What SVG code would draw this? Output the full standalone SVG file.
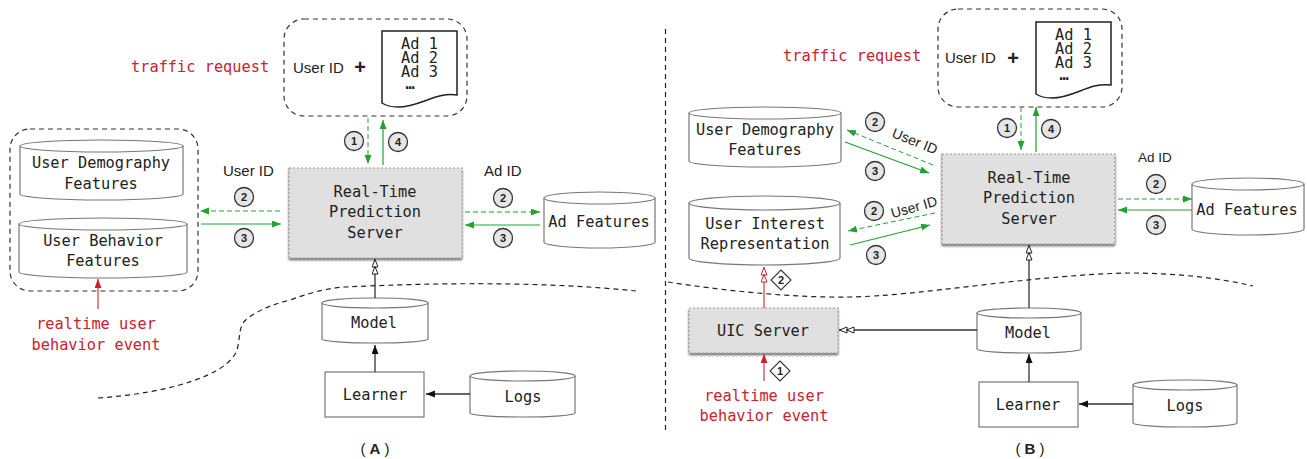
<svg xmlns="http://www.w3.org/2000/svg" width="1307" height="459" viewBox="0 0 1307 459">
<style>
text{font-family:"DejaVu Sans Mono","Liberation Mono",monospace;font-size:15.300px;fill:#222}
.m{text-anchor:middle}
.s{font-family:"Liberation Sans",Arial,sans-serif;font-size:15px}
.red{fill:#c9232f}
.cyl{fill:#fff;stroke:#777;stroke-width:1.2}
.box{fill:#fff;stroke:#777;stroke-width:1.2}
.srv{fill:#e0e0e0;stroke:#999;stroke-width:1.2;stroke-dasharray:2 2;filter:url(#sh)}
.grp{fill:#fff;stroke:#333;stroke-width:1.2;stroke-dasharray:5 4}
.doc{fill:#fff;stroke:#222;stroke-width:1.5}
.cut{fill:none;stroke:#222;stroke-width:1.2;stroke-dasharray:5 4}
.gs{fill:none;stroke:#22a32f;stroke-width:1.2;marker-end:url(#ga)}
.gd{fill:none;stroke:#22a32f;stroke-width:1;stroke-dasharray:5 3;marker-end:url(#ga)}
.bk{fill:none;stroke:#333;stroke-width:1.3;marker-end:url(#ka)}
.bh{fill:none;stroke:#333;stroke-width:1.3;marker-end:url(#kh)}
.rd{fill:none;stroke:#c9232f;stroke-width:1.1;marker-end:url(#ra)}
.rh{fill:none;stroke:#c9232f;stroke-width:1.1;marker-end:url(#rh)}
.bc{fill:#e6e6e6;stroke:#333;stroke-width:1.3}
.bt{font-family:"Liberation Sans",Arial,sans-serif;font-size:11px;font-weight:bold;text-anchor:middle}
.di{fill:#fff;stroke:#333;stroke-width:1.1}
</style>
<defs>
<filter id="sh" x="-5%" y="-5%" width="110%" height="115%"><feDropShadow dx="0" dy="2" stdDeviation="1.2" flood-color="#000" flood-opacity="0.55"/></filter>
<marker id="ga" markerUnits="userSpaceOnUse" markerWidth="10" markerHeight="8" refX="9" refY="3.500" orient="auto"><path d="M0 0L9 3.500L0 7Z" fill="#22a32f"/></marker>
<marker id="ka" markerUnits="userSpaceOnUse" markerWidth="10" markerHeight="8" refX="9" refY="3.500" orient="auto"><path d="M0 0L9 3.500L0 7Z" fill="#111"/></marker>
<marker id="kh" markerUnits="userSpaceOnUse" markerWidth="16" markerHeight="8" refX="15.500" refY="3.500" orient="auto"><path d="M7.500 0.500L15 3.500L7.500 6.500Z M0.500 0.500L8 3.500L0.500 6.500Z" fill="#fff" stroke="#222" stroke-width="1"/></marker>
<marker id="ra" markerUnits="userSpaceOnUse" markerWidth="10" markerHeight="8" refX="9" refY="3.500" orient="auto"><path d="M0 0L9 3.500L0 7Z" fill="#c9232f"/></marker>
<marker id="rh" markerUnits="userSpaceOnUse" markerWidth="16" markerHeight="8" refX="15.500" refY="3.500" orient="auto"><path d="M7.500 0.500L15 3.500L7.500 6.500Z M0.500 0.500L8 3.500L0.500 6.500Z" fill="#fff" stroke="#c9232f" stroke-width="1"/></marker>
</defs>

<path class="cut" id="divider" d="M665.500 29V433"/>
<path class="cut" id="boundary-a" d="M98 398C170 393 228 375 237 350C241 335 238 325 248 318C262 308 275 304 290 300C315 291 330 288 345 287C430 283 540 281 636 291"/>
<path class="cut" id="boundary-b" d="M668 282C720 290 790 298 850 297C920 296 1030 275 1129 273C1170 273 1215 277 1253 286"/>

<g id="a-feature-group"><rect class="grp" x="10" y="129" width="188" height="162" rx="20"/></g>
<g id="a-demography"><path class="cyl" d="M20 146A81.500 6 0 0 1 183 146V194A81.500 6 0 0 1 20 194Z"/><path class="cyl" d="M20 146A81.500 6 0 0 0 183 146"/><text class="m" x="101" y="168">User Demography</text><text class="m" x="101" y="189">Features</text></g>
<g id="a-behavior"><path class="cyl" d="M19 224A84 6 0 0 1 187 224V272A84 6 0 0 1 19 272Z"/><path class="cyl" d="M19 224A84 6 0 0 0 187 224"/><text class="m" x="103" y="246">User Behavior</text><text class="m" x="103" y="266">Features</text></g>
<g id="a-request"><rect class="grp" x="284" y="19" width="183" height="97" rx="20"/><text class="s" x="293" y="73">User ID</text><text class="s" x="360" y="74" text-anchor="middle" style="font-size:20px;font-weight:bold">+</text><path class="doc" d="M382 31H457V95C435 92 420 107 398 107C390 107 385 105 382 103Z"/><text x="401" y="49">Ad 1</text><text x="401" y="63">Ad 2</text><text x="401" y="77">Ad 3</text><text class="m" x="410" y="89" style="font-weight:bold">…</text></g>
<g id="a-server"><rect class="srv" x="289" y="168" width="173" height="90"/><text class="m" x="375" y="197">Real-Time</text><text class="m" x="375" y="217">Prediction</text><text class="m" x="375" y="238">Server</text></g>
<g id="a-adfeatures"><path class="cyl" d="M544 198A55.500 6 0 0 1 655 198V242A55.500 6 0 0 1 544 242Z"/><path class="cyl" d="M544 198A55.500 6 0 0 0 655 198"/><text class="m" x="599" y="227">Ad Features</text></g>
<g id="a-model"><path class="cyl" d="M322 303A53 5 0 0 1 428 303V339A53 4 0 0 1 322 339Z"/><path class="cyl" d="M322 303A53 5 0 0 0 428 303"/><text class="m" x="374" y="328">Model</text></g>
<g id="a-learner"><rect class="box" x="325" y="372" width="99" height="45"/><text class="m" x="375" y="400">Learner</text></g>
<g id="a-logs"><path class="cyl" d="M470 376A52.500 5 0 0 1 575 376V413A52.500 4 0 0 1 470 413Z"/><path class="cyl" d="M470 376A52.500 5 0 0 0 575 376"/><text class="m" x="523" y="402">Logs</text></g>

<g id="b-request"><rect class="grp" x="938" y="9" width="184" height="98" rx="20"/><text class="s" x="945" y="63">User ID</text><text class="s" x="1013" y="65" text-anchor="middle" style="font-size:20px;font-weight:bold">+</text><path class="doc" d="M1036 22H1111V85C1089 82 1074 98 1052 98C1044 98 1039 96 1036 94Z"/><text x="1055" y="40">Ad 1</text><text x="1055" y="54">Ad 2</text><text x="1055" y="68">Ad 3</text><text class="m" x="1064" y="80" style="font-weight:bold">…</text></g>
<g id="b-demography"><path class="cyl" d="M689 113A76 6 0 0 1 841 113V161A76 6 0 0 1 689 161Z"/><path class="cyl" d="M689 113A76 6 0 0 0 841 113"/><text class="m" x="765" y="135">User Demography</text><text class="m" x="765" y="155">Features</text></g>
<g id="b-interest"><path class="cyl" d="M689 203A75.500 7 0 0 1 840 203V258A75.500 7 0 0 1 689 258Z"/><path class="cyl" d="M689 203A75.500 7 0 0 0 840 203"/><text class="m" x="765" y="229">User Interest</text><text class="m" x="765" y="249">Representation</text></g>
<g id="b-server"><rect class="srv" x="942" y="154" width="173" height="90"/><text class="m" x="1029" y="183">Real-Time</text><text class="m" x="1029" y="203">Prediction</text><text class="m" x="1029" y="224">Server</text></g>
<g id="b-adfeatures"><path class="cyl" d="M1192 184A56 6 0 0 1 1304 184V229A56 6 0 0 1 1192 229Z"/><path class="cyl" d="M1192 184A56 6 0 0 0 1304 184"/><text class="m" x="1247" y="215">Ad Features</text></g>
<g id="b-uic"><rect class="srv" x="689" y="308" width="149" height="45"/><text class="m" x="763" y="336">UIC Server</text></g>
<g id="b-model"><path class="cyl" d="M977 313A52 5 0 0 1 1081 313V349A52 4 0 0 1 977 349Z"/><path class="cyl" d="M977 313A52 5 0 0 0 1081 313"/><text class="m" x="1028" y="338">Model</text></g>
<g id="b-learner"><rect class="box" x="979" y="382" width="99" height="45"/><text class="m" x="1028" y="410">Learner</text></g>
<g id="b-logs"><path class="cyl" d="M1133 385A52 5 0 0 1 1237 385V423A52 4 0 0 1 1133 423Z"/><path class="cyl" d="M1133 385A52 5 0 0 0 1237 385"/><text class="m" x="1185" y="411">Logs</text></g>

<g id="connectors">
<path class="gd" d="M368 118V164"/><path class="gs" d="M383 165V120"/>
<path class="gd" d="M280 211H200"/><path class="gs" d="M201 224H281"/>
<path class="gd" d="M465 212H540"/><path class="gs" d="M540 225H465"/>
<path class="bh" d="M375 298V259"/><path class="bk" d="M375 372V345"/><path class="bk" d="M470 394H426"/>
<path class="rd" d="M98 309V279"/>
<path class="gd" d="M1021 107V150"/><path class="gs" d="M1036 152V107"/>
<path class="gd" d="M933 165L847 130"/><path class="gs" d="M845 142L929 173"/>
<path class="gd" d="M935 213L848 231"/><path class="gs" d="M850 245L930 225"/>
<path class="gd" d="M1118 199H1192"/><path class="gs" d="M1192 210H1118"/>
<path class="bh" d="M1029 308V245"/><path class="bh" d="M977 330H839"/><path class="bk" d="M1029 382V354"/><path class="bk" d="M1133 404H1079"/>
<path class="rh" d="M764 308V267"/><path class="rd" d="M764 381V354"/>
</g>

<g id="labels">
<text class="red" x="131" y="72">traffic request</text>
<text class="red" x="783" y="61">traffic request</text>
<text class="red m" x="96" y="329">realtime user</text><text class="red m" x="96" y="350">behavior event</text>
<text class="red m" x="764" y="401">realtime user</text><text class="red m" x="764" y="421">behavior event</text>
<text class="s" x="223" y="176">User ID</text><text class="s" x="484" y="176">Ad ID</text>
<text class="s" x="1138" y="162" style="font-size:13.500px">Ad ID</text>
<text class="s m" x="915" y="146" style="font-size:14px" transform="rotate(22 915 141)">User ID</text>
<text class="s m" x="914" y="212" style="font-size:14px" transform="rotate(-16 914 207)">User ID</text>
<text class="s m" x="375" y="454">( <tspan font-weight="bold">A</tspan> )</text>
<text class="s m" x="1030" y="454">( <tspan font-weight="bold">B</tspan> )</text>

<circle class="bc" cx="354" cy="141" r="9.500"/><text class="bt" x="354" y="145">1</text>
<circle class="bc" cx="398" cy="142" r="9.500"/><text class="bt" x="398" y="146">4</text>
<circle class="bc" cx="244" cy="197" r="9.500"/><text class="bt" x="244" y="201">2</text>
<circle class="bc" cx="244" cy="238" r="9.500"/><text class="bt" x="244" y="242">3</text>
<circle class="bc" cx="503" cy="198" r="9.500"/><text class="bt" x="503" y="202">2</text>
<circle class="bc" cx="503" cy="238" r="9.500"/><text class="bt" x="503" y="242">3</text>
<circle class="bc" cx="1007" cy="128" r="9.500"/><text class="bt" x="1007" y="132">1</text>
<circle class="bc" cx="1051" cy="129" r="9.500"/><text class="bt" x="1051" y="133">4</text>
<circle class="bc" cx="875" cy="122" r="9.500"/><text class="bt" x="875" y="126">2</text>
<circle class="bc" cx="875" cy="171" r="9.500"/><text class="bt" x="875" y="175">3</text>
<circle class="bc" cx="874" cy="211" r="9.500"/><text class="bt" x="874" y="215">2</text>
<circle class="bc" cx="876" cy="255" r="9.500"/><text class="bt" x="876" y="259">3</text>
<circle class="bc" cx="1156" cy="184" r="9.500"/><text class="bt" x="1156" y="188">2</text>
<circle class="bc" cx="1156" cy="225" r="9.500"/><text class="bt" x="1156" y="229">3</text>
<path class="di" d="M781 270L791 280L781 290L771 280Z"/><text class="bt" x="781" y="284">2</text>
<path class="di" d="M780 361L790 371L780 381L770 371Z"/><text class="bt" x="780" y="375">1</text>
</g>
</svg>
